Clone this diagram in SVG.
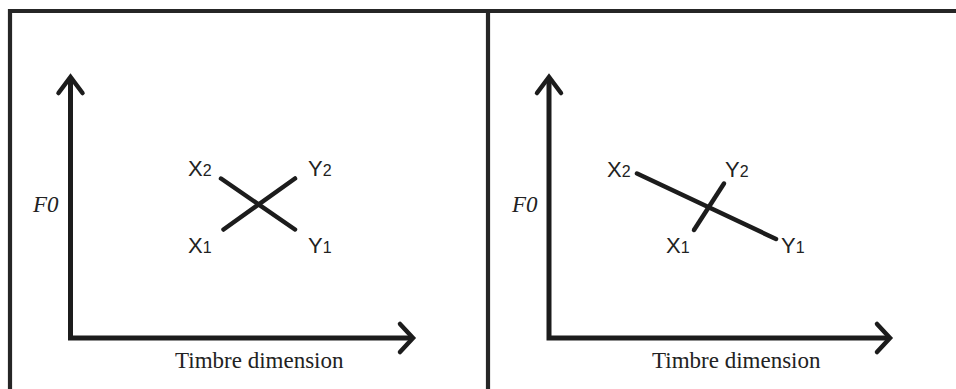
<svg xmlns="http://www.w3.org/2000/svg" width="956" height="389" viewBox="0 0 956 389">
<style>
.frame{stroke:#262626;stroke-width:4.2;fill:none}
.axis{stroke:#1c1c1c;stroke-width:5;fill:none;stroke-linejoin:miter}
.head{stroke:#1c1c1c;stroke-width:4.5;fill:none;stroke-linecap:round;stroke-linejoin:miter}
.seg{stroke:#1c1c1c;stroke-width:4.5;fill:none;stroke-linecap:round}
.ax{font-family:"Liberation Serif","Times New Roman",serif;font-size:23px;fill:#222}
.f0{font-family:"Liberation Serif","Times New Roman",serif;font-style:italic;font-size:23px;fill:#222}
.lbl{font-family:"Liberation Sans",Arial,sans-serif;font-size:22px;fill:#222}
.sub{font-size:16px}
</style>
<rect width="956" height="389" fill="#ffffff"/>
<g id="frame">
<path class="frame" d="M10 389 V11 H956"/>
<path class="frame" d="M488 11 V389"/>
</g>
<g id="left-panel">
<g id="left-axes">
<path class="axis" d="M70.5 79 V338 H411"/>
<polyline class="head" points="58.5,93 70.5,77 82.5,93"/>
<polyline class="head" points="400,324 413,338 400,352"/>
</g>
<text class="f0" x="33" y="212">F0</text>
<text class="ax" x="175" y="368">Timbre dimension</text>
<g id="left-cross">
<line class="seg" x1="221" y1="178.5" x2="295" y2="229.5"/>
<line class="seg" x1="223.5" y1="229.5" x2="295" y2="178.5"/>
</g>
<text class="lbl" x="188" y="176">X<tspan class="sub">2</tspan></text>
<text class="lbl" x="308" y="176">Y<tspan class="sub">2</tspan></text>
<text class="lbl" x="188" y="253">X<tspan class="sub">1</tspan></text>
<text class="lbl" x="308" y="253">Y<tspan class="sub">1</tspan></text>
</g>
<g id="right-panel">
<g id="right-axes">
<path class="axis" d="M549 79 V338 H888"/>
<polyline class="head" points="537,93 549,77 561,93"/>
<polyline class="head" points="877,324 890,338 877,352"/>
</g>
<text class="f0" x="512" y="212">F0</text>
<text class="ax" x="652" y="368">Timbre dimension</text>
<g id="right-cross">
<line class="seg" x1="637" y1="173.5" x2="776" y2="239"/>
<line class="seg" x1="694" y1="230" x2="724" y2="183.5"/>
</g>
<text class="lbl" x="607" y="177">X<tspan class="sub">2</tspan></text>
<text class="lbl" x="725" y="177">Y<tspan class="sub">2</tspan></text>
<text class="lbl" x="666" y="253">X<tspan class="sub">1</tspan></text>
<text class="lbl" x="781" y="253">Y<tspan class="sub">1</tspan></text>
</g>
</svg>
